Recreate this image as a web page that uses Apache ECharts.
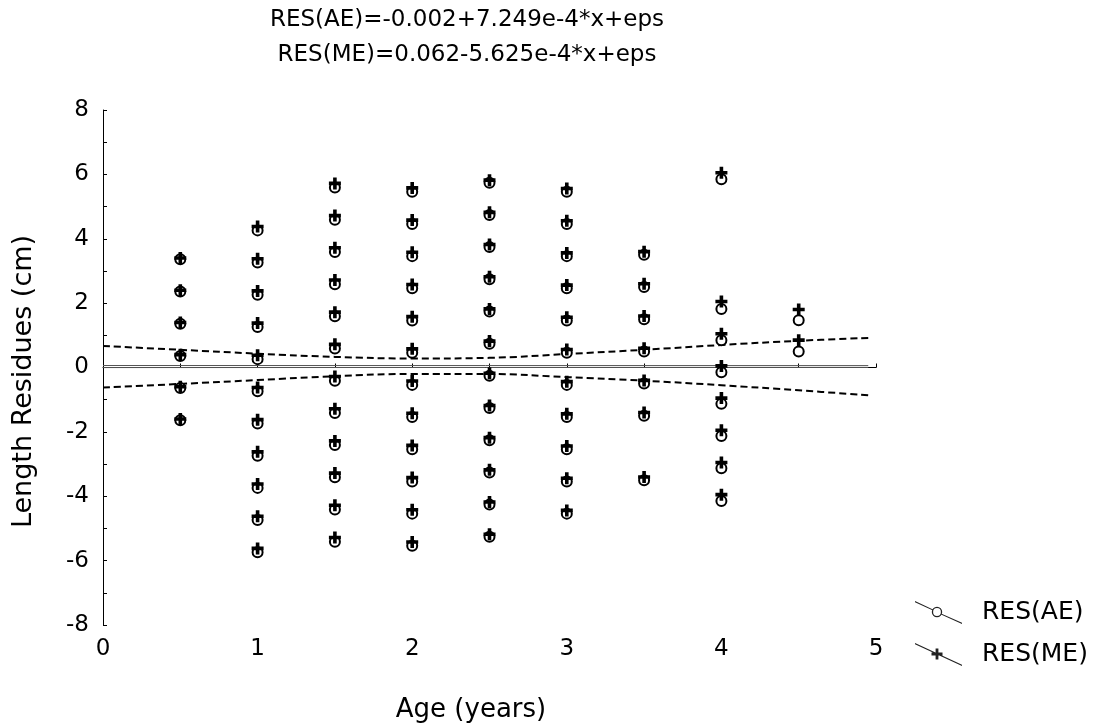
<!DOCTYPE html>
<html>
<head>
<meta charset="utf-8">
<script src="https://cdn.jsdelivr.net/npm/echarts@6/dist/echarts.min.js"></script>
<style>
html,body{margin:0;padding:0;background:#fff;}
#chart{width:1100px;height:728px;}
</style>
</head>
<body>
<div id="chart"></div>
<script>
// ---- data ----
const titleLines = ['RES(AE)=-0.002+7.249e-4*x+eps', 'RES(ME)=0.062-5.625e-4*x+eps'];
const seriesNames = ['RES(AE)', 'RES(ME)'];
const ages = [0.5, 1, 1.5, 2, 2.5, 3, 3.5, 4, 4.5];
const resAE = [
  [3.36, 2.36, 1.36, 0.36, -0.64, -1.64],
  [4.26, 3.26, 2.26, 1.26, 0.26, -0.74, -1.74, -2.74, -3.74, -4.74, -5.74],
  [5.59, 4.59, 3.59, 2.59, 1.59, 0.59, -0.41, -1.41, -2.41, -3.41, -4.41, -5.41],
  [5.46, 4.46, 3.46, 2.46, 1.46, 0.46, -0.54, -1.54, -2.54, -3.54, -4.54, -5.54],
  [5.74, 4.74, 3.74, 2.74, 1.74, 0.74, -0.26, -1.26, -2.26, -3.26, -4.26, -5.26],
  [5.46, 4.46, 3.46, 2.46, 1.46, 0.46, -0.54, -1.54, -2.54, -3.54, -4.54],
  [3.5, 2.5, 1.5, 0.5, -0.5, -1.5, -3.5],
  [5.85, 1.82, 0.85, -0.15, -1.13, -2.13, -3.13, -4.15],
  [1.47, 0.5]
];
const resME = [
  [3.4, 2.4, 1.4, 0.4, -0.6, -1.6],
  [4.38, 3.38, 2.38, 1.38, 0.38, -0.62, -1.62, -2.62, -3.62, -4.62, -5.62],
  [5.72, 4.72, 3.72, 2.72, 1.72, 0.72, -0.28, -1.28, -2.28, -3.28, -4.28, -5.28],
  [5.58, 4.58, 3.58, 2.58, 1.58, 0.58, -0.42, -1.42, -2.42, -3.42, -4.42, -5.42],
  [5.82, 4.82, 3.82, 2.82, 1.82, 0.82, -0.18, -1.18, -2.18, -3.18, -4.18, -5.18],
  [5.56, 4.56, 3.56, 2.56, 1.56, 0.56, -0.44, -1.44, -2.44, -3.44, -4.44],
  [3.6, 2.6, 1.6, 0.6, -0.4, -1.4, -3.4],
  [6.05, 2.05, 1.05, 0.05, -0.95, -1.95, -2.95, -3.95],
  [1.8, 0.85]
];
// regression lines (x, y) read at the ends
const regAE = [[0, -0.002], [4.95, 0.002]];
const regME = [[0, 0.062], [4.95, 0.059]];
// dashed confidence band
const bandX = [0, 0.5, 1, 1.5, 2, 2.5, 3, 3.5, 4, 4.5, 4.95];
const bandUpper = [0.67, 0.55, 0.43, 0.33, 0.28, 0.30, 0.42, 0.55, 0.70, 0.83, 0.92];
const bandLower = [-0.62, -0.51, -0.39, -0.27, -0.2, -0.2, -0.3, -0.41, -0.55, -0.71, -0.86];
const xTicks = {min: 0, max: 5, step: 0.5, labelStep: 1};
const yTicks = {min: -8, max: 8, step: 1, labelStep: 2};

// ---- build ----
function pairs(xs, lists) {
  const out = [];
  xs.forEach((x, i) => lists[i].forEach(v => out.push([x, v])));
  return out;
}
const bandUp = bandX.map((x, i) => [x, bandUpper[i]]);
const bandLo = bandX.map((x, i) => [x, bandLower[i]]);
function onStep(v, step) {
  const r = v / step;
  return Math.abs(r - Math.round(r)) < 1e-6;
}

const FONT = 'DejaVu Sans';
const plusPath = 'path://M3.5,0 H6.5 V3.5 H10 V6.5 H6.5 V10 H3.5 V6.5 H0 V3.5 H3.5 Z';
const legendAE = 'path://M0,0 L18,8.4 L18,9.6 L0,1.2 Z M26,12.4 L47,21.8 L47,23 L26,13.6 Z ' +
  'M16.8,11 A5.2,5.2 0 1,1 27.2,11 A5.2,5.2 0 1,1 16.8,11 Z ' +
  'M18.1,11 A3.9,3.9 0 1,0 25.9,11 A3.9,3.9 0 1,0 18.1,11 Z';
const legendME = 'path://M0,0 L47,21.8 L47,23 L0,1.2 Z ' +
  'M20.6,5.5 H23.4 V9.6 H27.5 V12.4 H23.4 V16.5 H20.6 V12.4 H16.5 V9.6 H20.6 Z';

const chart = echarts.init(document.getElementById('chart'), null, {renderer: 'canvas'});
chart.setOption({
  animation: false,
  backgroundColor: '#fff',
  title: [
    {text: titleLines[0], left: 467, top: 7, textAlign: 'center', padding: 0,
     textStyle: {fontFamily: FONT, fontSize: 23, fontWeight: 'normal', color: '#000', lineHeight: 26}},
    {text: titleLines[1], left: 467, top: 42, textAlign: 'center', padding: 0,
     textStyle: {fontFamily: FONT, fontSize: 23, fontWeight: 'normal', color: '#000', lineHeight: 26}}
  ],
  legend: {
    orient: 'vertical',
    left: 915, top: 600,
    padding: 0,
    itemWidth: 47, itemHeight: 23, itemGap: 17,
    itemStyle: {borderWidth: 0},
    textStyle: {fontFamily: FONT, fontSize: 25, color: '#000', padding: [0, 0, 0, 15]},
    data: [
      {name: seriesNames[0], icon: legendAE, itemStyle: {color: '#222', borderWidth: 0, opacity: 1}},
      {name: seriesNames[1], icon: legendME, itemStyle: {color: '#222', borderWidth: 0, opacity: 1}}
    ]
  },
  grid: {left: 103, right: 224, top: 110, bottom: 98, containLabel: false},
  xAxis: {
    type: 'value', min: xTicks.min, max: xTicks.max, interval: xTicks.step,
    name: 'Age (years)', nameLocation: 'middle', nameGap: 72,
    nameTextStyle: {fontFamily: FONT, fontSize: 26, color: '#000', padding: [0, 37, 0, 0]},
    axisLine: {show: true, lineStyle: {color: '#000', width: 1}},
    axisTick: {show: true, inside: true, length: 4, lineStyle: {color: '#000'}},
    axisLabel: {margin: 13, fontFamily: FONT, fontSize: 23, color: '#000',
      formatter: v => onStep(v, xTicks.labelStep) ? String(v) : ''},
    splitLine: {show: false}
  },
  yAxis: {
    type: 'value', min: yTicks.min, max: yTicks.max, interval: yTicks.step,
    name: 'Length Residues (cm)', nameLocation: 'middle', nameGap: 66,
    nameTextStyle: {fontFamily: FONT, fontSize: 27, color: '#000', padding: [0, 28, 0, 0]},
    axisLine: {show: true, lineStyle: {color: '#000', width: 1}},
    axisTick: {show: true, inside: true, length: 4, lineStyle: {color: '#000'}},
    axisLabel: {margin: 14, fontFamily: FONT, fontSize: 23, color: '#000',
      formatter: v => onStep(v, yTicks.labelStep) ? String(v) : ''},
    splitLine: {show: false}
  },
  series: [
    {type: 'line', name: 'bandUpper', data: bandUp, smooth: 0.4, symbol: 'none', z: 2,
     lineStyle: {color: '#000', width: 2, type: [7, 4]}, silent: true},
    {type: 'line', name: 'bandLower', data: bandLo, smooth: 0.4, symbol: 'none', z: 2,
     lineStyle: {color: '#000', width: 2, type: [7, 4]}, silent: true},
    {type: 'line', name: 'regAE', data: regAE, symbol: 'none', z: 2,
     lineStyle: {color: '#555', width: 1}, silent: true},
    {type: 'line', name: 'regME', data: regME, symbol: 'none', z: 2,
     lineStyle: {color: '#555', width: 1}, silent: true},
    {type: 'scatter', name: seriesNames[0], data: pairs(ages, resAE), z: 3,
     symbol: 'emptyCircle', symbolSize: 10,
     itemStyle: {color: '#000', borderWidth: 1.4, opacity: 1}},
    {type: 'scatter', name: seriesNames[1], data: pairs(ages, resME), z: 4,
     symbol: plusPath, symbolSize: 12,
     itemStyle: {color: '#000', opacity: 1}}
  ]
});
</script>
</body>
</html>
